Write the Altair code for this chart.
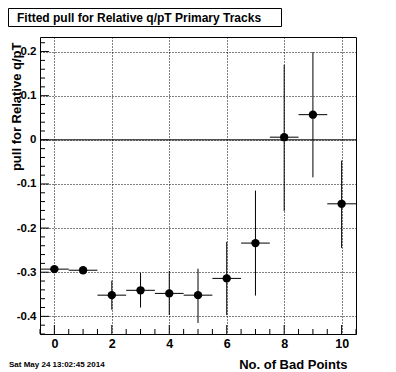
import altair as alt
import pandas as pd

# ---- data ----
bad_points = [0, 1, 2, 3, 4, 5, 6, 7, 8, 9, 10]
pull = [-0.293, -0.2955, -0.352, -0.341, -0.348, -0.352, -0.314, -0.234, 0.006, 0.057, -0.145]
pull_lo = [-0.297, -0.299, -0.385, -0.380, -0.397, -0.415, -0.397, -0.353, -0.161, -0.085, -0.245]
pull_hi = [-0.289, -0.292, -0.319, -0.301, -0.297, -0.292, -0.231, -0.115, 0.170, 0.199, -0.047]
x_half_width = [0.5] * 11

x_major = [0, 2, 4, 6, 8, 10]
x_minor = [v / 2 for v in range(-1, 22) if v % 4 != 0]
y_major = [-0.4, -0.3, -0.2, -0.1, 0.0, 0.1, 0.2]
y_all = [round(-0.44 + 0.02 * i, 2) for i in range(0, 34)]
y_minor = [v for v in y_all if abs(v * 10 - round(v * 10)) > 1e-6]

title_text = "Fitted pull for Relative q/pT Primary Tracks"
x_title = "No. of Bad Points"
y_title = "pull for Relative q/pT"
date_text = "Sat May 24 13:02:45 2014"

FONT = "Liberation Sans"
W, H = 316, 297

df = pd.DataFrame({"x": bad_points, "y": pull, "ylo": pull_lo, "yhi": pull_hi, "xe": x_half_width})

xs = alt.Scale(domain=[-0.5, 10.5], nice=False, zero=False)
ys = alt.Scale(domain=[-0.44, 0.233], nice=False, zero=False)

xaxis = alt.Axis(values=x_major, grid=True, gridDash=[1, 2], gridColor="black", gridOpacity=1,
                 ticks=False, domain=False, labelFont=FONT, labelFontWeight="bold", labelFontSize=12.5,
                 labelColor="black", labelPadding=3, title=x_title, titleFont=FONT,
                 titleFontWeight="bold", titleFontSize=13, titleColor="black",
                 titleX=307, titleY=30, titleAlign="right", titleBaseline="middle", titleAnchor="end")
yaxis = alt.Axis(values=y_major, grid=True, gridDash=[1, 2], gridColor="black", gridOpacity=1,
                 ticks=False, domain=False, labelFont=FONT, labelFontWeight="bold", labelFontSize=11.5,
                 labelColor="black", labelPadding=4,
                 labelExpr="datum.value == 0 ? '0' : replace(format(datum.value, '.1f'), '\u2212', '-')",
                 title=y_title, titleFont=FONT, titleFontWeight="bold", titleFontSize=13,
                 titleColor="black", titleAngle=270, titleX=-23.5, titleY=5, titleAlign="right",
                 titleBaseline="middle", titleAnchor="end")

X = lambda f: alt.X(f, type="quantitative", scale=xs, axis=xaxis)
Y = lambda f: alt.Y(f, type="quantitative", scale=ys, axis=yaxis)

base = alt.Chart(df)

vbars = base.mark_rule(color="black", strokeWidth=1).encode(x=X("x"), y=Y("ylo"), y2="yhi")
hbars = base.transform_calculate(xlo="datum.x - datum.xe", xhi="datum.x + datum.xe").mark_rule(
    color="black", strokeWidth=1).encode(x=X("xlo"), x2="xhi", y=Y("y"))
points = base.mark_circle(color="black", opacity=1, size=70).encode(x=X("x"), y=Y("y"))

zero = alt.Chart(pd.DataFrame({"y": [0.0]})).mark_rule(color="black", strokeWidth=1).encode(y=Y("y"))

ymaj = alt.Chart(pd.DataFrame({"y": y_major})).mark_rule(color="black").encode(
    y=Y("y"), x=alt.value(0), x2=alt.value(9))
ymin = alt.Chart(pd.DataFrame({"y": y_minor})).mark_rule(color="black").encode(
    y=Y("y"), x=alt.value(0), x2=alt.value(5))
xmaj = alt.Chart(pd.DataFrame({"x": x_major})).mark_rule(color="black").encode(
    x=X("x"), y=alt.value(H), y2=alt.value(H - 9))
xmin = alt.Chart(pd.DataFrame({"x": x_minor})).mark_rule(color="black").encode(
    x=X("x"), y=alt.value(H), y2=alt.value(H - 5))

tbox = alt.Chart(pd.DataFrame({"t": [title_text]})).mark_rect(
    fill="white", stroke="black", strokeWidth=1).encode(
    x=alt.value(-31.5), x2=alt.value(241.5), y=alt.value(-28.5), y2=alt.value(-10.5))
ttext = alt.Chart(pd.DataFrame({"t": [title_text]})).mark_text(
    font=FONT, fontWeight="bold", fontSize=12, align="left", baseline="middle", color="black").encode(
    text="t", x=alt.value(-23), y=alt.value(-19.5))
dtext = alt.Chart(pd.DataFrame({"t": [date_text]})).mark_text(
    font=FONT, fontWeight="bold", fontSize=8, align="left", baseline="middle", color="black").encode(
    text="t", x=alt.value(-31), y=alt.value(328))

chart = alt.layer(zero, ymaj, ymin, xmaj, xmin, vbars, hbars, points, tbox, ttext, dtext).properties(
    width=W, height=H,
    autosize=alt.AutoSizeParams(type="none"),
    padding={"left": 32, "top": 29, "right": 32, "bottom": 40},
    background="white",
).configure_view(stroke="black", strokeWidth=1)

chart.save("out.html", embed_options={"renderer": "svg", "actions": False})
